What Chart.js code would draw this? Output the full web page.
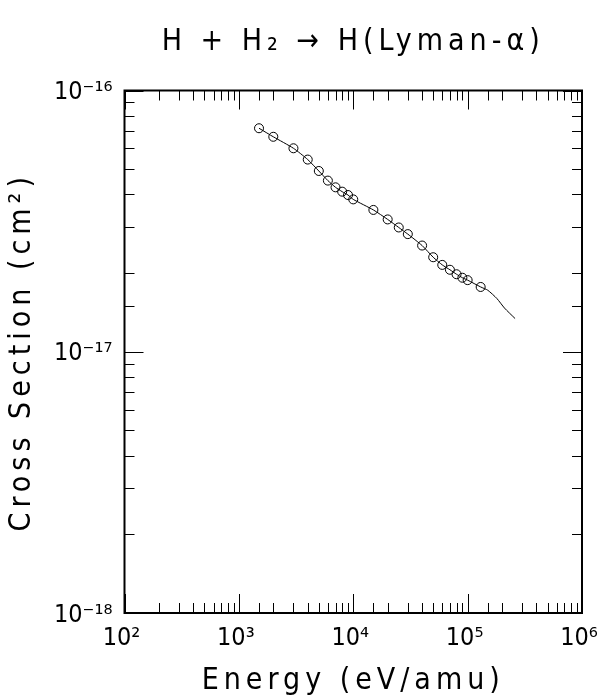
<!DOCTYPE html>
<html><head><meta charset="utf-8">
<script src="https://cdn.jsdelivr.net/npm/chart.js@4/dist/chart.umd.min.js"></script>
<style>html,body{margin:0;padding:0;background:#fff;overflow:hidden}canvas{display:block}</style>
</head><body>
<canvas id="c" width="598" height="696"></canvas>
<script>
// Measured points (eV/amu, cm^2)
const energy = [1500, 2000, 3000, 4000, 5000, 6000, 7000, 8000, 9000, 10000, 15000, 20000, 25000, 30000, 40000, 50000, 60000, 70000, 80000, 90000, 100000, 130000];
const crossSection = [7.17e-17, 6.65e-17, 6.01e-17, 5.44e-17, 4.92e-17, 4.52e-17, 4.26e-17, 4.10e-17, 3.98e-17, 3.83e-17, 3.49e-17, 3.21e-17, 2.99e-17, 2.82e-17, 2.55e-17, 2.30e-17, 2.15e-17, 2.06e-17, 1.98e-17, 1.92e-17, 1.88e-17, 1.77e-17];
// Fitted curve tail beyond the last measured point
const fitTailEnergy = [150000, 180000, 210000, 260000];
const fitTailCross = [1.72e-17, 1.60e-17, 1.47e-17, 1.34e-17];
// Tick labels
const xTickLabels = ['10²', '10³', '10⁴', '10⁵', '10⁶'];
const yTickLabels = ['10⁻¹⁸', '10⁻¹⁷', '10⁻¹⁶'];
const titleText = 'H + H₂ → H(Lyman-α)';
const xTitle = 'Energy (eV/amu)';
const yTitle = 'Cross Section (cm²)';

const FONT = "'DejaVu Sans Condensed','DejaVu Sans',sans-serif";
const pts = energy.map((e, i) => ({x: e, y: crossSection[i]}));
const fitPts = pts.concat(fitTailEnergy.map((e, i) => ({x: e, y: fitTailCross[i]})));
const isMajor = v => { const l = Math.log10(v); return Math.abs(l - Math.round(l)) < 1e-6; };

// wide letter spacing for the titles (as in the reference's stroke font)
const canvas = document.getElementById('c');
const ctx2d = canvas.getContext('2d');
const spaced = new Set([titleText, xTitle, yTitle]);
const origFill = ctx2d.fillText;
ctx2d.fillText = function(t) {
  if (spaced.has(t)) {
    const prev = this.letterSpacing;
    this.letterSpacing = '5px';
    origFill.apply(this, arguments);
    this.letterSpacing = prev;
  } else {
    origFill.apply(this, arguments);
  }
};

const frameTicks = {
  id: 'frameTicks',
  afterDatasetsDraw(chart) {
    const {ctx, chartArea: a, scales: {x, y}} = chart;
    ctx.save();
    ctx.strokeStyle = '#000';
    ctx.lineWidth = 1;
    ctx.beginPath();
    x.ticks.forEach(t => {
      const px = Math.round(x.getPixelForValue(t.value)) + 0.5;
      const L = isMajor(t.value) ? 19 : 10;
      ctx.moveTo(px, a.bottom); ctx.lineTo(px, a.bottom - L);
      ctx.moveTo(px, a.top); ctx.lineTo(px, a.top + L);
    });
    y.ticks.forEach(t => {
      const py = Math.round(y.getPixelForValue(t.value)) + 0.5;
      const L = isMajor(t.value) ? 19 : 10;
      ctx.moveTo(a.left, py); ctx.lineTo(a.left + L, py);
      ctx.moveTo(a.right, py); ctx.lineTo(a.right - L, py);
    });
    ctx.stroke();
    ctx.lineWidth = 2;
    ctx.strokeRect(a.left, a.top, a.right - a.left, a.bottom - a.top);
    ctx.restore();
  }
};

new Chart(canvas, {
  type: 'scatter',
  data: {
    datasets: [
      {data: fitPts, showLine: true, borderColor: '#000', borderWidth: 1, pointRadius: 0, tension: 0.2, fill: false},
      {data: pts, showLine: false, pointRadius: 4.5, pointBorderWidth: 1, pointBorderColor: '#000', pointBackgroundColor: 'rgba(0,0,0,0)', pointStyle: 'circle'}
    ]
  },
  options: {
    responsive: false,
    animation: false,
    devicePixelRatio: 1,
    layout: {padding: {left: 0, right: 16, top: 0, bottom: 0}},
    plugins: {
      legend: {display: false},
      tooltip: {enabled: false},
      title: {
        display: true, text: titleText, fullSize: false, color: '#000',
        font: {family: FONT, size: 30, weight: 'normal', lineHeight: 1.2},
        padding: {top: 24, bottom: 30.5}
      }
    },
    scales: {
      x: {
        type: 'logarithmic', position: 'bottom', min: 100, max: 1000000,
        afterFit: s => { s.height = 83; s.paddingLeft = 0; s.paddingRight = 0; },
        grid: {display: true, drawOnChartArea: false, drawTicks: false},
        border: {display: false},
        ticks: {
          autoSkip: false, maxRotation: 0, color: '#000', padding: 10, labelOffset: -3,
          font: {family: FONT, size: 25},
          callback: v => isMajor(v) ? xTickLabels[Math.round(Math.log10(v)) - 2] : ''
        },
        title: {display: true, text: xTitle, color: '#000', font: {family: FONT, size: 30, lineHeight: 1.0}, padding: {top: 0, bottom: 0}}
      },
      y: {
        type: 'logarithmic', position: 'left', min: 1e-18, max: 1e-16,
        afterFit: s => { s.width = 124.5; s.paddingTop = 0; s.paddingBottom = 0; },
        grid: {display: true, drawOnChartArea: false, drawTicks: false},
        border: {display: false},
        ticks: {
          autoSkip: false, color: '#000', padding: 12, labelOffset: 2,
          font: {family: FONT, size: 25},
          callback: v => isMajor(v) ? yTickLabels[Math.round(Math.log10(v)) + 18] : ''
        },
        title: {display: true, text: yTitle, color: '#000', font: {family: FONT, size: 30, lineHeight: 1.2}, padding: {top: 4, bottom: 0}}
      }
    }
  },
  plugins: [frameTicks]
});
</script>
</body></html>
